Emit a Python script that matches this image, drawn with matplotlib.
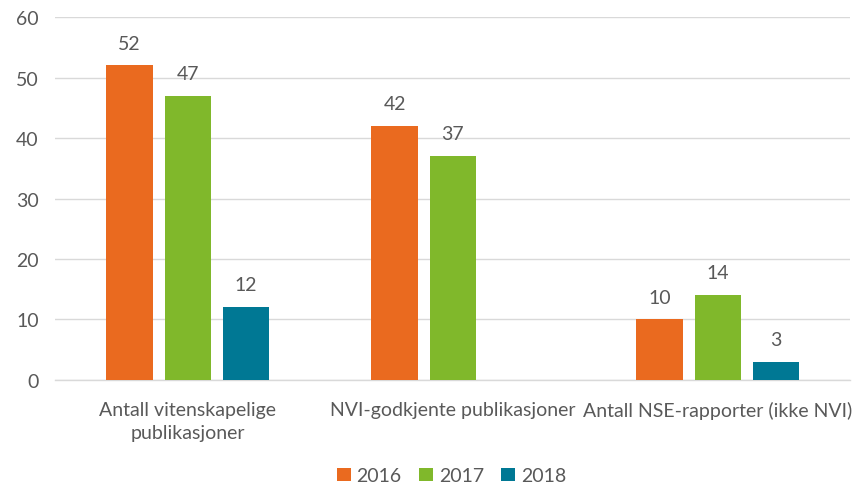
import numpy as np
import matplotlib.pyplot as plt

# Kategorier og verdier
kategorier = ["Antall vitenskapelige\npublikasjoner",
              "NVI-godkjente publikasjoner",
              "Antall NSE-rapporter (ikke NVI)"]
aar = ["2016", "2017", "2018"]
v2016 = [52, 42, 10]
v2017 = [47, 37, 14]
v2018 = [12, None, 3]   # ingen verdi for NVI-godkjente i 2018

farger = ["#EA6A1F", "#80B82B", "#007894"]
tekst = "#595959"

plt.rcParams['font.family'] = ['Lato', 'DejaVu Sans']

fig = plt.figure(figsize=(8.52, 4.89), dpi=100)
ax = fig.add_axes([0.065, 0.221, 0.933, 0.742])

x = np.arange(len(kategorier))
bredde = 0.175
avstand = 0.22

serier = [v2016, v2017, v2018]
for j, (verdier, farge, navn) in enumerate(zip(serier, farger, aar)):
    xs = [xi + (j - 1) * avstand for xi, v in zip(x, verdier) if v is not None]
    ys = [v for v in verdier if v is not None]
    bars = ax.bar(xs, ys, width=bredde, color=farge, label=navn, zorder=3)
    for b, v in zip(bars, ys):
        ax.text(b.get_x() + b.get_width() / 2, v + 2.3, str(v),
                ha='center', va='bottom', fontsize=14, color=tekst)

ax.set_xlim(-0.5, 2.5)
ax.set_ylim(0, 60)
ax.set_yticks(range(0, 61, 10))
ax.set_xticks(x)
ax.set_xticklabels(kategorier, fontsize=14, color=tekst, linespacing=1.45)
ax.tick_params(axis='y', labelsize=14, labelcolor=tekst, length=0, pad=12)
ax.tick_params(axis='x', length=0, pad=15)

ax.grid(axis='y', color='#D9D9D9', linewidth=1, zorder=0)
for s in ['top', 'right', 'left']:
    ax.spines[s].set_visible(False)
ax.spines['bottom'].set_color('#D9D9D9')
ax.spines['bottom'].set_linewidth(1)

leg = fig.legend(loc='lower center', bbox_to_anchor=(0.53, -0.028), ncol=3,
                 frameon=False, fontsize=14, handlelength=0.7, handleheight=0.7,
                 handletextpad=0.3, columnspacing=0.9)
for t in leg.get_texts():
    t.set_color(tekst)

fig.savefig("out.png", dpi=100)
